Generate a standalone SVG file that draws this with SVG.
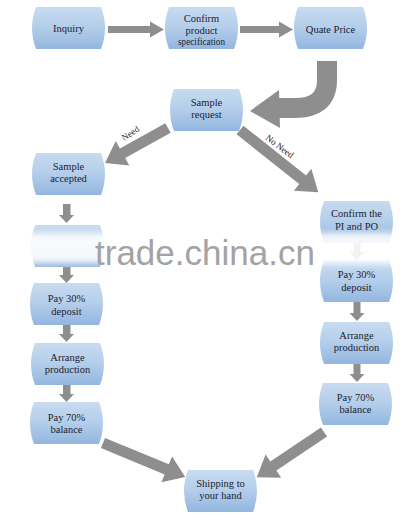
<svg xmlns="http://www.w3.org/2000/svg" width="408" height="531" viewBox="0 0 408 531">
<defs>
<linearGradient id="nodeFill" x1="0" y1="0" x2="0" y2="1">
<stop offset="0" stop-color="#c8dbf0"/>
<stop offset="0.5" stop-color="#b3cdea"/>
<stop offset="1" stop-color="#93b6df"/>
</linearGradient>
<path id="shape" d="M4,0H69Q77,21 69,42H4Q-4,21 4,0Z"/>
<filter id="blur" x="-20%" y="-40%" width="140%" height="180%"><feGaussianBlur stdDeviation="3"/></filter>
</defs>
<style>
.node use{fill:url(#nodeFill)}
.node text{font-size:10.5px;fill:#1c1c30;text-anchor:middle}
.arrow{fill:#8e8e8e;stroke:none}
.curve{fill:none;stroke:#8e8e8e;stroke-width:20}
.lbl{font-size:9px;fill:#222}
.wm{font-family:'Liberation Sans',Arial,sans-serif;font-size:35px;fill:#a3a3a3}
</style>
<rect width="408" height="531" fill="#ffffff"/>

<g id="connectors" font-family="Liberation Serif, Times New Roman, serif">
<path class="arrow" d="M108,26H150V21.5L164,29.5L150,37.5V33H108Z"/>
<path class="arrow" d="M240,26H279V21.5L293,29.5L279,37.5V33H240Z"/>
<path class="curve" d="M327,61V80C327,100 315,108 295,108H278"/>
<path class="arrow" d="M279,90L250,111L280,128Z"/>
<path class="arrow" transform="translate(168,128) rotate(150.95)" d="M0,-5.5H52V-14L72,0L52,14V5.5H0Z"/>
<path class="arrow" transform="translate(240,130) rotate(38.5)" d="M0,-5.5H80V-14L100,0L80,14V5.5H0Z"/>
<text class="lbl" font-family="Liberation Serif, serif" transform="translate(124,141) rotate(-33)">Need</text>
<text class="lbl" font-family="Liberation Serif, serif" transform="translate(265,139) rotate(37)">No Need</text>
<path class="arrow" d="M63,204V215H59L66.5,223L74,215H70.5V204Z"/>
<path class="arrow" d="M63,266V275H59L66.5,283L74,275H70.5V266Z"/>
<path class="arrow" d="M63,325V334H59L66.5,342L74,334H70.5V325Z"/>
<path class="arrow" d="M63,385V394H59L66.5,402L74,394H70.5V385Z"/>
<path class="arrow" d="M353.5,243V252H349.5L357,260L364.5,252H360.5V243Z"/>
<path class="arrow" d="M353.5,302V313H349.5L357,321L364.5,313H360.5V302Z"/>
<path class="arrow" d="M353.5,363V374H349.5L357,382L364.5,374H360.5V363Z"/>
<path class="arrow" transform="translate(103,443) rotate(22.5)" d="M0,-5.5H69V-14L89,0L69,14V5.5H0Z"/>
<path class="arrow" transform="translate(324,432) rotate(146.1)" d="M0,-5.5H61V-14L81,0L61,14V5.5H0Z"/>
</g>

<g font-family="Liberation Serif, Times New Roman, serif">
<g id="n-inquiry" class="node" transform="translate(32,7)"><use href="#shape"/><text x="36.5" y="25">Inquiry</text></g>
<g id="n-confirm-spec" class="node" transform="translate(165,7)"><use href="#shape"/><text x="36.5" y="15">Confirm</text><text x="36.5" y="26.5">product</text><text x="36.5" y="38" textLength="47" lengthAdjust="spacingAndGlyphs">specification</text></g>
<g id="n-quote" class="node" transform="translate(294,7)"><use href="#shape"/><text x="36.5" y="26">Quate Price</text></g>
<g id="n-sample-request" class="node" transform="translate(170,89)"><use href="#shape"/><text x="36.5" y="16.5">Sample</text><text x="36.5" y="28.5">request</text></g>
<g id="n-sample-accepted" class="node" transform="translate(32,153)"><use href="#shape"/><text x="36.5" y="16.5">Sample</text><text x="36.5" y="29">accepted</text></g>
<g id="n-hidden" class="node" transform="translate(31,225)"><use href="#shape"/></g>
<g id="n-confirm-pi" class="node" transform="translate(320,201)"><use href="#shape"/><text x="36.5" y="16">Confirm the</text><text x="36.5" y="29">PI and PO</text></g>
<g id="n-pay30-r" class="node" transform="translate(320,260)"><use href="#shape"/><text x="36.5" y="18">Pay 30%</text><text x="36.5" y="31">deposit</text></g>
<g id="n-arrange-r" class="node" transform="translate(320,322)"><use href="#shape"/><text x="36.5" y="17">Arrange</text><text x="36.5" y="29">production</text></g>
<g id="n-pay70-r" class="node" transform="translate(319,383)"><use href="#shape"/><text x="36.5" y="18">Pay 70%</text><text x="36.5" y="29.5">balance</text></g>
<g id="n-pay30-l" class="node" transform="translate(30,283)"><use href="#shape"/><text x="36.5" y="19">Pay 30%</text><text x="36.5" y="32">deposit</text></g>
<g id="n-arrange-l" class="node" transform="translate(31,343)"><use href="#shape"/><text x="36.5" y="18">Arrange</text><text x="36.5" y="30">production</text></g>
<g id="n-pay70-l" class="node" transform="translate(30,402)"><use href="#shape"/><text x="36.5" y="19">Pay 70%</text><text x="36.5" y="31">balance</text></g>
<g id="n-shipping" class="node" transform="translate(184,470)"><use href="#shape"/><text x="36.5" y="17">Shipping to</text><text x="36.5" y="29">your hand</text></g>
</g>

<g id="watermark">
<rect x="26" y="233" width="84" height="30" fill="#ffffff" opacity="0.9" filter="url(#blur)"/>
<rect x="313" y="233" width="90" height="31" fill="#ffffff" opacity="0.9" filter="url(#blur)"/>
<text class="wm" x="95" y="265">trade.china.cn</text>
</g>
</svg>
